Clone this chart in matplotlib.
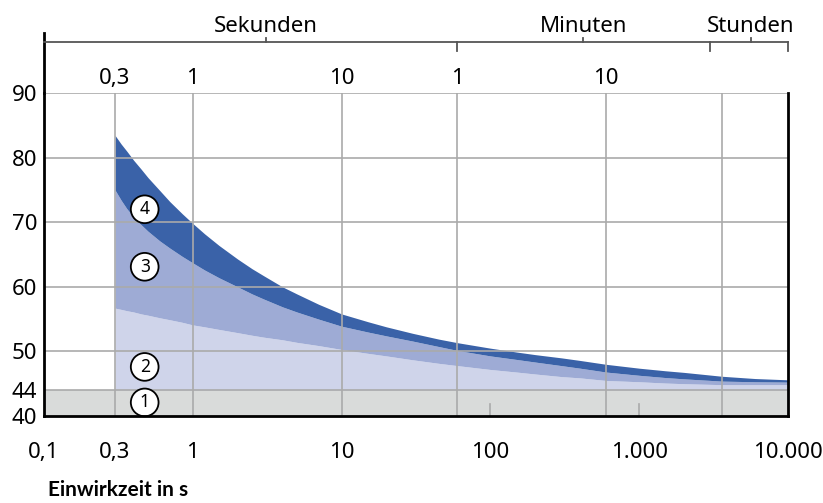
import matplotlib
matplotlib.use('Agg')
import matplotlib.pyplot as plt

plt.rcParams['font.family'] = ['Noto Sans', 'DejaVu Sans']

# exposure time in seconds
t = [0.3, 0.33, 0.36, 0.4, 0.45, 0.5, 0.6, 0.7, 0.85, 1, 1.2, 1.5, 2, 2.5, 3,
     4, 5, 7, 10, 15, 20, 30, 45, 60, 100, 150, 200, 300, 400, 600, 1000,
     1500, 2000, 3600, 6000, 10000]
# upper edge of zones 2, 3 and 4
zone2_top = [56.7, 56.5, 56.3, 56.1, 55.8, 55.6, 55.2, 54.9, 54.5, 54.1, 53.8,
             53.4, 52.9, 52.5, 52.2, 51.8, 51.4, 50.9, 50.3, 49.7, 49.3, 48.7,
             48.15, 47.8, 47.2, 46.8, 46.5, 46.1, 45.9, 45.5, 45.3, 45.1, 45.0,
             44.85, 44.85, 44.85]
zone3_top = [75.0, 73.4, 72.1, 70.8, 69.6, 68.6, 67.1, 66.0, 64.7, 63.7, 62.6,
             61.4, 60.0, 58.9, 58.1, 56.9, 56.1, 55.0, 53.9, 53.0, 52.4, 51.6,
             50.75, 50.15, 49.3, 48.75, 48.35, 47.8, 47.4, 46.8, 46.3, 45.95,
             45.75, 45.4, 45.3, 45.25]
zone4_top = [83.45, 82.1, 81.0, 79.6, 78.2, 76.9, 74.9, 73.2, 71.3, 69.8, 68.2,
             66.4, 64.3, 62.8, 61.7, 60.0, 58.9, 57.3, 55.8, 54.6, 53.8, 52.8,
             51.9, 51.35, 50.5, 49.9, 49.5, 49.0, 48.6, 48.0, 47.4, 47.0, 46.75,
             46.15, 45.8, 45.6]
zone1_top = 44

y_ticks = [40, 44, 50, 60, 70, 80, 90]
x_ticks = [0.1, 0.3, 1, 10, 100, 1000, 10000]
x_labels = ['0,1', '0,3', '1', '10', '100', '1.000', '10.000']
grid_x = [0.3, 1, 10, 60, 600, 3600]
top_ticks = [0.3, 1, 10, 60, 600]
top_labels = ['0,3', '1', '10', '1', '10']
unit_labels = ['Sekunden', 'Minuten', 'Stunden']
unit_pos = [3.1, 420, 5600]
unit_breaks = [60, 3000, 10000]
circle_labels = ['1', '2', '3', '4']
circle_y = [42.1, 47.6, 63.1, 72.0]
circle_x = 0.475

c_grey = '#d9dbda'
c_light = '#cfd4ea'
c_mid = '#9eabd5'
c_dark = '#3a62a8'
c_grid = '#aaaaaa'

fig = plt.figure(figsize=(8.23, 5.03), dpi=100)
ax = fig.add_axes([44 / 823, 87 / 503, 744 / 823, 323 / 503])
ax.set_xscale('log')
ax.set_xlim(0.1, 10000)
ax.set_ylim(40, 90)

# zones
ax.axhspan(40, zone1_top, color=c_grey, lw=0, zorder=1)
ax.fill_between(t, zone1_top, zone2_top, color=c_light, lw=0, zorder=1)
ax.fill_between(t, zone2_top, zone3_top, color=c_mid, lw=0, zorder=1)
ax.fill_between(t, zone3_top, zone4_top, color=c_dark, lw=0, zorder=1)

# grid drawn over the fills
for yv in y_ticks[1:]:
    ax.axhline(yv, color=c_grid, lw=1.2, zorder=3)
for xv in grid_x:
    ax.axvline(xv, color=c_grid, lw=1.2, zorder=3)
# short marks at 100 and 1000
for xv in [100, 1000]:
    ax.plot([xv, xv], [0, 12 / 323], color=c_grid, lw=1.2,
            transform=ax.get_xaxis_transform(), zorder=3)

for i, lab in enumerate(circle_labels):
    ax.text(circle_x, circle_y[i], lab, ha='center', va='center', fontsize=12.5,
            zorder=5, bbox=dict(boxstyle='circle,pad=0.28', fc='white',
                                ec='black', lw=1.3))

# spines
ax.spines['top'].set_visible(False)
for s in ['left', 'bottom', 'right']:
    ax.spines[s].set_linewidth(2)
    ax.spines[s].set_zorder(6)

ax.set_yticks(y_ticks)
ax.set_yticklabels([str(v) for v in y_ticks])
ax.set_xticks(x_ticks)
ax.set_xticklabels(x_labels)
ax.minorticks_off()
ax.tick_params(axis='y', length=0, pad=5, labelsize=16)
ax.tick_params(axis='x', length=0, pad=19, labelsize=16)

# left axis line runs up past the plot
trans = ax.get_xaxis_transform()
ax.plot([0.1, 0.1], [1.0, 1.186], color='black', lw=2, transform=trans,
        clip_on=False)

# top time-unit axis
top_y = 1.159
ax.plot([0.1, 10000], [top_y, top_y], color='#555555', lw=1.3,
        transform=trans, clip_on=False)
for xv in unit_breaks:
    ax.plot([xv, xv], [top_y, top_y - 9 / 323], color='#555555', lw=1.3,
            transform=trans, clip_on=False)
for xv, lab in zip(unit_pos, unit_labels):
    ax.plot([xv, xv], [top_y, top_y + 4 / 323], color='#555555', lw=1.3,
            transform=trans, clip_on=False)
    ax.text(xv, 1.205, lab, ha='center', va='center', fontsize=16,
            transform=trans)
for xv, lab in zip(top_ticks, top_labels):
    ax.text(xv, 1.044, lab, ha='center', va='center', fontsize=16,
            transform=trans)

fig.text(48 / 823, 7 / 503, 'Einwirkzeit in s', ha='left', va='baseline',
         fontsize=15, fontweight='bold', family=['Lato', 'DejaVu Sans'])

fig.savefig('out.png', dpi=100)
